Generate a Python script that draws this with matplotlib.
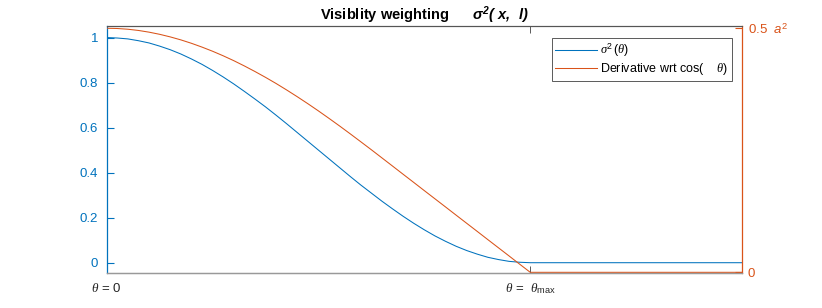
import matplotlib
matplotlib.use('Agg')
from matplotlib import pyplot as plt

plt.rcParams['font.family'] = ['Liberation Sans', 'DejaVu Sans']
plt.rcParams['mathtext.fontset'] = 'custom'
plt.rcParams['mathtext.rm'] = 'Liberation Sans'
plt.rcParams['mathtext.it'] = 'Liberation Serif:italic'
plt.rcParams['mathtext.bf'] = 'Liberation Sans:italic:bold'
plt.rcParams['mathtext.sf'] = 'Liberation Sans:italic'

# theta in units of theta_max
theta = [0, 0.025, 0.05, 0.075, 0.1, 0.125, 0.15, 0.175, 0.2, 0.225, 0.25,
         0.275, 0.3, 0.325, 0.35, 0.375, 0.4, 0.425, 0.45, 0.475, 0.5,
         0.525, 0.55, 0.575, 0.6, 0.625, 0.65, 0.675, 0.7, 0.725, 0.75,
         0.775, 0.8, 0.825, 0.85, 0.875, 0.9, 0.925, 0.95, 0.975, 1.0, 1.5]
sigma2 = [1.0, 0.998, 0.994, 0.986, 0.976, 0.962, 0.946, 0.927, 0.905, 0.881, 0.854,
          0.825, 0.794, 0.761, 0.727, 0.692, 0.655, 0.617, 0.578, 0.539, 0.5,
          0.461, 0.422, 0.383, 0.345, 0.309, 0.273, 0.239, 0.206, 0.175, 0.146,
          0.119, 0.095, 0.073, 0.054, 0.038, 0.024, 0.014, 0.006, 0.002, 0.0, 0.0]
deriv = [0.5, 0.4995, 0.498, 0.4955, 0.492, 0.4876, 0.4823, 0.4762, 0.4692, 0.4614, 0.4529,
         0.4436, 0.4336, 0.4228, 0.4114, 0.3994, 0.3868, 0.3735, 0.3597, 0.3454, 0.3306,
         0.3153, 0.2997, 0.2837, 0.2674, 0.2510, 0.2343, 0.2176, 0.2008, 0.1841, 0.1673,
         0.1506, 0.1339, 0.1171, 0.1004, 0.0837, 0.0669, 0.0502, 0.0335, 0.0167, 0.0, 0.0]

xticks = [0, 1]
xlabels = [r'$\theta$ = 0', r'$\theta$ =  $\theta_{\rm max}$']
lticks = [0, 0.2, 0.4, 0.6, 0.8, 1]
llabels = ['0', '0.2', '0.4', '0.6', '0.8', '1']
rticks = [0, 0.5]
rlabels = ['0', r'0.5  $\mathsf{a}^2$']

blue = '#0072BD'
orange = '#D95319'

fig = plt.figure(figsize=(8.22, 3.08), dpi=100)
ax = fig.add_axes([0.1298, 0.1127, 0.7729, 0.8019])
ax2 = ax.twinx()

l1, = ax.plot(theta, sigma2, color=blue, lw=0.75)
l2, = ax2.plot(theta, deriv, color=orange, lw=0.75)

ax.set_xlim(0, 1.5)
ax.set_ylim(-0.047, 1.05)
ax2.set_ylim(-0.002, 0.504)

ax.set_xticks(xticks)
ax.set_xticklabels(xlabels, fontsize=9.5, color='#262626')
ax.set_yticks(lticks)
ax.set_yticklabels(llabels, fontsize=9.5)
ax2.set_yticks(rticks)
ax2.set_yticklabels(rlabels, fontsize=9.5)

ax.tick_params(axis='x', direction='in', top=True, length=5, width=0.6,
               color='#404040', pad=6)
ax.tick_params(axis='y', direction='in', length=5, width=0.8, colors=blue, pad=6)
ax2.tick_params(axis='y', direction='in', length=5, width=0.8, colors=orange, pad=4)

for a in (ax, ax2):
    a.spines['top'].set_color('#555555')
    a.spines['bottom'].set_color('#999999')
    a.spines['top'].set_linewidth(0.8)
    a.spines['bottom'].set_linewidth(0.9)
ax.spines['left'].set_color(blue)
ax.spines['left'].set_linewidth(0.9)
ax.spines['right'].set_visible(False)
ax2.spines['left'].set_visible(False)
ax2.spines['right'].set_color(orange)
ax2.spines['right'].set_linewidth(0.9)

ax.set_title(r'Visiblity weighting      $\mathbf{\sigma^2(\ x,\ \ l)}$',
             fontsize=10.5, fontweight='bold', pad=4)

leg = ax2.legend([l1, l2], [r'$\sigma^2\,(\theta)$', r'Derivative wrt cos(    $\theta$)'],
                 loc='upper right', bbox_to_anchor=(732.3 / 822, 1 - 37.7 / 308),
                 bbox_transform=fig.transFigure, borderaxespad=0, fontsize=9,
                 fancybox=False, framealpha=1, edgecolor='#404040',
                 handlelength=3.3, handletextpad=0.3, borderpad=0.3,
                 labelspacing=0.2)
leg.get_frame().set_linewidth(0.6)

fig.savefig('out.png', dpi=100)
